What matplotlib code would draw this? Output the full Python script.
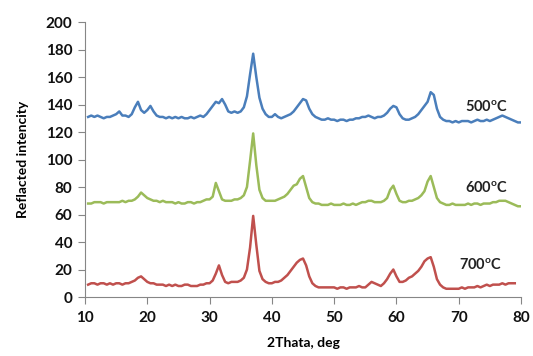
import numpy as np
import matplotlib
matplotlib.use("Agg")
import matplotlib.pyplot as plt

plt.rcParams['font.family'] = ['Lato', 'DejaVu Sans']
plt.rcParams['mathtext.fontset'] = 'custom'
plt.rcParams['mathtext.rm'] = 'Lato:bold'

two_theta = np.arange(10.5, 80.01, 0.5)

int_500 = [131, 132, 131, 132, 131, 130, 131, 131, 132,
           133, 135, 132, 132, 131, 133, 138, 142, 136, 134,
           136, 139, 135, 132, 131, 131, 130, 131, 130, 131,
           130, 131, 130, 130, 131, 130, 131, 132, 131, 133,
           136, 139, 142, 141, 144, 140, 135, 134, 135, 134,
           135, 138, 146, 162, 177, 160, 145, 137, 133, 131,
           131, 133, 131, 130, 131, 132, 133, 135, 138, 141,
           144, 143, 137, 133, 131, 130, 129, 129, 130, 129,
           129, 128, 129, 129, 128, 129, 129, 130, 130, 131,
           131, 132, 131, 130, 131, 131, 132, 134, 137, 139,
           138, 133, 130, 129, 129, 130, 131, 133, 136, 139,
           142, 149, 147, 137, 131, 129, 128, 128, 127, 128,
           127, 128, 128, 128, 127, 128, 129, 128, 128, 129,
           128, 129, 130, 131, 132, 131, 130, 129, 128, 127,
           127]

int_600 = [68, 68, 69, 69, 69, 68, 69, 69, 69,
           69, 69, 70, 69, 70, 70, 71, 73, 76, 74,
           72, 71, 70, 70, 69, 70, 69, 69, 69, 68,
           69, 68, 68, 69, 69, 68, 69, 69, 70, 71,
           71, 73, 83, 77, 71, 70, 70, 70, 71, 71,
           72, 74, 80, 99, 119, 96, 78, 72, 70, 70,
           70, 70, 71, 72, 73, 75, 78, 81, 82, 86,
           88, 80, 72, 69, 68, 68, 67, 67, 67, 68,
           67, 67, 67, 68, 67, 67, 68, 67, 68, 69,
           69, 70, 70, 69, 69, 69, 70, 72, 78, 81,
           75, 70, 69, 69, 70, 70, 71, 72, 74, 77,
           84, 88, 80, 72, 69, 68, 67, 67, 68, 67,
           67, 67, 67, 68, 67, 68, 68, 67, 68, 68,
           68, 69, 69, 70, 70, 70, 69, 68, 67, 66,
           66]

int_700 = [9, 10, 10, 9, 10, 10, 9, 10, 9,
           10, 10, 9, 10, 10, 11, 12, 14, 15, 13,
           11, 10, 10, 9, 9, 9, 8, 9, 8, 9,
           8, 8, 9, 9, 8, 8, 8, 9, 9, 10,
           10, 12, 17, 23, 16, 11, 10, 11, 11, 11,
           12, 14, 20, 36, 59, 38, 19, 13, 11, 10,
           10, 11, 11, 12, 14, 16, 19, 22, 25, 27,
           28, 23, 15, 10, 8, 7, 7, 7, 7, 7,
           7, 6, 7, 7, 6, 7, 7, 7, 8, 7,
           7, 9, 11, 10, 9, 8, 10, 13, 17, 20,
           15, 11, 11, 12, 14, 15, 17, 19, 22, 26,
           28, 29, 22, 13, 9, 7, 6, 6, 6, 6,
           6, 7, 6, 7, 7, 7, 8, 7, 8, 9,
           8, 9, 9, 9, 10, 9, 10, 10, 10, np.nan,
           np.nan]

series_labels = ['500$^\\mathregular{o}$C', '600$^\\mathregular{o}$C', '700$^\\mathregular{o}$C']
label_pos = [(74.5, 138), (74.5, 79.5), (73.5, 23.3)]
colors = ['#4a7ebb', '#9bbb59', '#c0504d']

x_ticks = [10, 20, 30, 40, 50, 60, 70, 80]
y_ticks = [0, 20, 40, 60, 80, 100, 120, 140, 160, 180, 200]

fig = plt.figure(figsize=(5.33, 3.56), dpi=100)
ax = fig.add_axes([0.1595, 0.1657, 0.818, 0.7723])

for y, c in zip([int_500, int_600, int_700], colors):
    ax.plot(two_theta, y, color=c, lw=1.8, solid_joinstyle='round')

for lab, (px, py) in zip(series_labels, label_pos):
    ax.text(px, py, lab, ha='center', va='center', fontsize=10.5,
            fontweight='bold', color='#222222')

ax.set_xlim(10, 80)
ax.set_ylim(0, 200)
ax.set_xticks(x_ticks)
ax.set_yticks(y_ticks)
for s in ['top', 'right']:
    ax.spines[s].set_visible(False)
for s in ['left', 'bottom']:
    ax.spines[s].set_color('#868686')
    ax.spines[s].set_linewidth(0.8)
ax.tick_params(axis='both', direction='out', length=5, width=0.8,
               color='#868686', labelsize=11, labelcolor='#111111')
for t in ax.get_xticklabels() + ax.get_yticklabels():
    t.set_fontweight('bold')
ax.tick_params(axis='x', pad=5)
ax.tick_params(axis='y', pad=4)

ax.set_xlabel('2Thata, deg', fontsize=10, fontweight='bold', labelpad=9)
ax.set_ylabel('Reflacted intencity', fontsize=10, fontweight='bold', labelpad=12)

fig.savefig('out.png', dpi=100)
